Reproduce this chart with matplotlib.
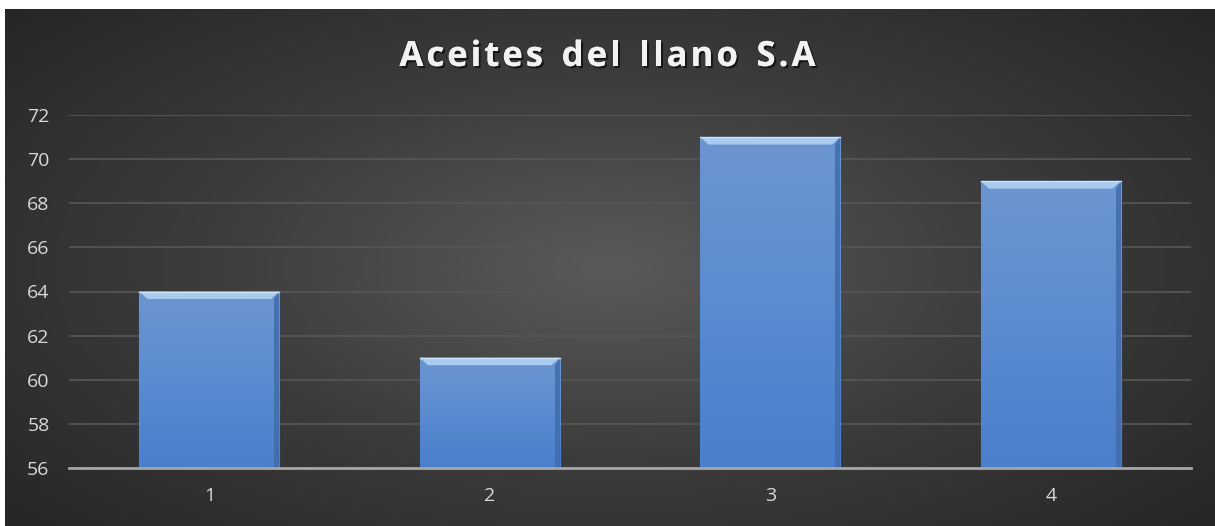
import numpy as np
import matplotlib
matplotlib.use('Agg')
import matplotlib.pyplot as plt
from matplotlib.patches import Polygon
import matplotlib.patheffects as pe
from matplotlib.colors import LinearSegmentedColormap

# datos del grafico
categorias = ['1', '2', '3', '4']
valores = [64, 61, 71, 69]
y_ticks = [56, 58, 60, 62, 64, 66, 68, 70, 72]
titulo = 'Aceites del llano S.A'

plt.rcParams['font.family'] = ['Open Sans', 'DejaVu Sans']

W, H = 1215, 526
fig = plt.figure(figsize=(W / 100, H / 100), dpi=100, facecolor='white')

# fondo oscuro con degradado radial
bg = fig.add_axes([5 / W, 0, 1 - 5 / W, 1 - 9 / H])
bg.set_axis_off()
yy, xx = np.mgrid[-1:1:300j, -1:1:700j]
r = np.sqrt((xx / 1.0) ** 2 + (yy / 1.1) ** 2)
r = np.clip(r / 1.35, 0, 1)
bg_cmap = LinearSegmentedColormap.from_list('bg', ['#5a5a5a', '#3c3c3c', '#262626'])
bg.imshow(r, cmap=bg_cmap, aspect='auto', extent=[0, 1, 0, 1], vmin=0, vmax=1)
bg.set_xlim(0, 1)
bg.set_ylim(0, 1)

ax = fig.add_axes([69 / W, (H - 468) / H, (1191 - 69) / W, (468 - 115) / H])
ax.patch.set_alpha(0)
x = np.arange(len(categorias))
bars = ax.bar(x, valores, width=0.5, bottom=0, color='#5b8bd0',
              edgecolor='#2b4f82', linewidth=1.0, zorder=3)
ax.set_xlim(-0.5, len(categorias) - 0.5)
ax.set_ylim(y_ticks[0], y_ticks[-1])

# degradado en cada barra + bisel superior
bar_cmap = LinearSegmentedColormap.from_list('bar', ['#4a7fcc', '#5b8bd0', '#6c96d0'])
grad = np.linspace(0, 1, 100).reshape(-1, 1)
for b in bars:
    x0, w = b.get_x(), b.get_width()
    top = b.get_height()
    im = ax.imshow(grad, cmap=bar_cmap, aspect='auto', origin='lower',
                   extent=[x0, x0 + w, y_ticks[0], top], zorder=3.5)
    im.set_clip_path(b)
    bw = 0.03
    bh = 0.34
    bevel = Polygon([[x0, top], [x0 + w, top], [x0 + w - bw, top - bh], [x0 + bw, top - bh]],
                    closed=True, facecolor='#a9cbf0', edgecolor='none', zorder=4)
    ax.add_patch(bevel)
    side = Polygon([[x0 + w, top], [x0 + w, y_ticks[0]], [x0 + w - bw * 0.6, y_ticks[0]],
                    [x0 + w - bw * 0.6, top - bh]],
                   closed=True, facecolor='#3f6aa8', edgecolor='none', alpha=0.8, zorder=4)
    ax.add_patch(side)
    ax.plot([x0, x0 + w], [top, top], color='#cfe3fa', lw=1.0, zorder=4.5)

ax.set_yticks(y_ticks)
ax.set_xticks(x)
ax.set_xticklabels(categorias)
ax.grid(axis='y', color='#555555', linewidth=1.3, zorder=0)
ax.set_axisbelow(True)
for s in ['top', 'right', 'left']:
    ax.spines[s].set_visible(False)
ax.spines['bottom'].set_color('#a6a6a6')
ax.spines['bottom'].set_linewidth(2)
ax.spines['bottom'].set_zorder(5)
ax.tick_params(axis='both', length=0, colors='#d9d9d9', labelsize=14)
ax.tick_params(axis='y', pad=14)
ax.tick_params(axis='x', pad=14)

# titulo con espaciado entre letras
title_kw = dict(color='#f2f2f2', fontsize=25, fontweight='bold', va='center', ha='left',
                path_effects=[pe.withSimplePatchShadow(offset=(1.5, -1.5), shadow_rgbFace='black', alpha=0.6),
                              pe.Normal()])
renderer = fig.canvas.get_renderer()
spacing = 3.0  # px
widths = []
for ch in titulo:
    t = fig.text(0, 0, ch if ch != ' ' else 'n', **title_kw)
    bb = t.get_window_extent(renderer)
    widths.append(bb.width * (0.55 if ch == ' ' else 1.0))
    t.remove()
total = sum(widths) + spacing * (len(titulo) - 1)
xpos = W / 2 - total / 2
ty = (H - 57) / H
for ch, wd in zip(titulo, widths):
    if ch != ' ':
        fig.text(xpos / W, ty, ch, **title_kw)
    xpos += wd + spacing

fig.savefig('out.png', dpi=100, facecolor='white')
